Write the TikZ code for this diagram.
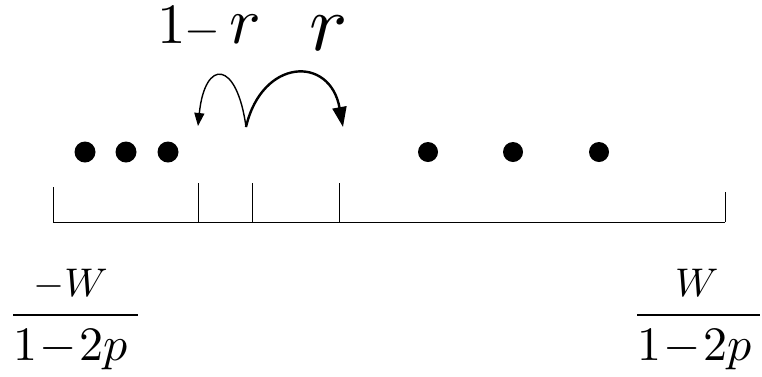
\documentclass[tikz,border=0pt]{standalone}
\usetikzlibrary{arrows.meta}
\tikzset{
  dotnode/.style={circle,fill=black,inner sep=0pt,minimum size=21pt},
  axisline/.style={line width=1pt,black},
  tickline/.style={line width=1pt,black},
  fracbar/.style={line width=1.8pt,black},
  txt/.style={inner sep=0pt,anchor=base west},
  thinarc/.style={line width=1.4pt,-{Triangle[length=13pt,width=10pt]}},
  thickarc/.style={line width=2.4pt,-{Triangle[length=20pt,width=14pt]}}
}
\begin{document}
\begin{tikzpicture}[x=1pt,y=-1pt]
\useasboundingbox (0,0) rectangle (762,376);
% axis
\coordinate (L) at (53,222);
\coordinate (R) at (725,222);
\coordinate (Lt) at (53,187);
\coordinate (Rt) at (725,192);
\coordinate (t1) at (198,222);
\coordinate (t1t) at (198,183);
\coordinate (t2) at (252,222);
\coordinate (t2t) at (252,183);
\coordinate (t3) at (339,222);
\coordinate (t3t) at (339,183);
\draw[axisline] (L) -- (R);
\draw[tickline] (L) -- (Lt);
\draw[tickline] (R) -- (Rt);
\draw[tickline] (t1) -- (t1t);
\draw[tickline] (t2) -- (t2t);
\draw[tickline] (t3) -- (t3t);
% dots
\node[dotnode] (d1) at (85,152) {};
\node[dotnode] (d2) at (126,152) {};
\node[dotnode] (d3) at (168,152) {};
\node[dotnode,minimum size=20pt] (d4) at (428,152) {};
\node[dotnode,minimum size=20pt] (d5) at (513,152) {};
\node[dotnode,minimum size=20pt] (d6) at (599,152) {};
% arrows
\coordinate (s) at (246,127);
\coordinate (eL) at (198,126);
\coordinate (eR) at (343,127);
\draw[thinarc] (s) .. controls (237,60) and (205,58) .. (eL);
\draw[thickarc] (s) .. controls (262,58) and (330,55) .. (eR);
% top labels
\node[txt] (one) at (157,43) {\scalebox{5.7}{$1$}};
\node[txt] (minus) at (184,43) {\scalebox{4.6}{$-$}};
\node[txt] (rL) at (229,43) {\scalebox{6.6}{$r$}};
\node[txt] (rR) at (309,50) {\scalebox{8}{$r$}};
% left fraction
\node[txt] (numL) at (33,296) {\scalebox{4}{$-W$}};
\draw[fracbar] (13,315) -- (138,315);
\node[txt] (denL) at (13,360) {\scalebox{4.8}{$1\!-\!2p$}};
% right fraction
\node[txt] (numR) at (675,296) {\scalebox{4}{$W$}};
\draw[fracbar] (637,315) -- (760,315);
\node[txt] (denR) at (637,360) {\scalebox{4.8}{$1\!-\!2p$}};
\end{tikzpicture}
\end{document}
